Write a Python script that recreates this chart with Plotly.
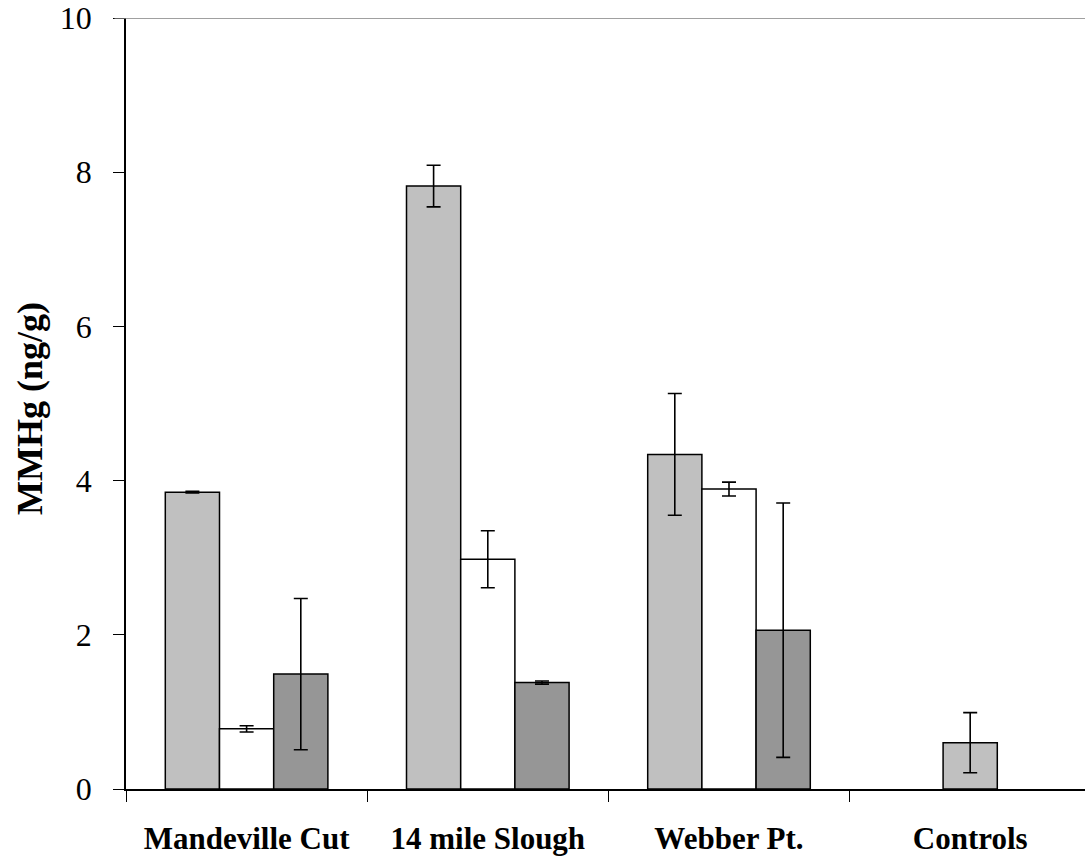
import plotly.graph_objects as go

categories = ["Mandeville Cut", "14 mile Slough", "Webber Pt.", "Controls"]

series1_values = [3.85, 7.82, 4.34, 0.60]
series1_errors = [0.01, 0.27, 0.79, 0.39]

series2_values = [0.78, 2.98, 3.89]
series2_errors = [0.04, 0.37, 0.09]

series3_values = [1.49, 1.38, 2.06]
series3_errors = [0.98, 0.02, 1.65]

y_ticks = [0, 2, 4, 6, 8, 10]
y_title = "MMHg (ng/g)"

FONT = "Times New Roman, Liberation Serif, serif"
W = 0.2247  # bar width in category units

err_style = dict(type="data", visible=True, color="black", thickness=1.6, width=7)
line_style = dict(color="black", width=1.5)

fig = go.Figure()

fig.add_trace(go.Bar(
    x=categories, y=series1_values,
    width=W,
    offset=[-1.5 * W] * 3 + [-0.5 * W],
    marker=dict(color="#C0C0C0", line=line_style),
    error_y=dict(array=series1_errors, **err_style),
    showlegend=False,
))
fig.add_trace(go.Bar(
    x=categories[:3], y=series2_values,
    width=W, offset=-0.5 * W,
    marker=dict(color="#FFFFFF", line=line_style),
    error_y=dict(array=series2_errors, **err_style),
    showlegend=False,
))
fig.add_trace(go.Bar(
    x=categories[:3], y=series3_values,
    width=W, offset=0.5 * W,
    marker=dict(color="#969696", line=line_style),
    error_y=dict(array=series3_errors, **err_style),
    showlegend=False,
))

fig.add_shape(type="line", xref="paper", yref="y", x0=-0.012, x1=1, y0=10, y1=10,
              line=dict(color="#808080", width=1.5))

fig.add_annotation(
    text="<b>" + y_title + "</b>", textangle=-90,
    xref="paper", yref="paper", x=-0.1, y=0.493,
    xanchor="center", yanchor="middle", showarrow=False,
    font=dict(family=FONT, size=36, color="black"),
)

fig.update_layout(
    width=1085, height=859,
    margin=dict(l=126, r=0, t=18, b=70),
    plot_bgcolor="white", paper_bgcolor="white",
    barmode="overlay",
    font=dict(family=FONT, color="black"),
    xaxis=dict(
        range=[-0.5, 3.476],
        automargin=False,
        showline=True, linecolor="black", linewidth=1.5,
        ticks="outside", tickson="boundaries", ticklen=11, tickcolor="black", tickwidth=1,
        tickfont=dict(family=FONT, size=31, color="black", weight="bold"),
        ticklabelstandoff=21,
        showgrid=False, zeroline=False,
    ),
    yaxis=dict(
        range=[0, 10],
        automargin=False,
        tickvals=y_ticks,
        showline=True, linecolor="black", linewidth=1.5,
        ticks="outside", ticklen=11, tickcolor="black", tickwidth=1,
        tickfont=dict(family=FONT, size=32, color="black"),
        ticklabelstandoff=15,
        showgrid=False, zeroline=False,
    ),
)

fig.write_html("out.html", config={"displayModeBar": False},
               post_script="document.body.style.margin='0';")
